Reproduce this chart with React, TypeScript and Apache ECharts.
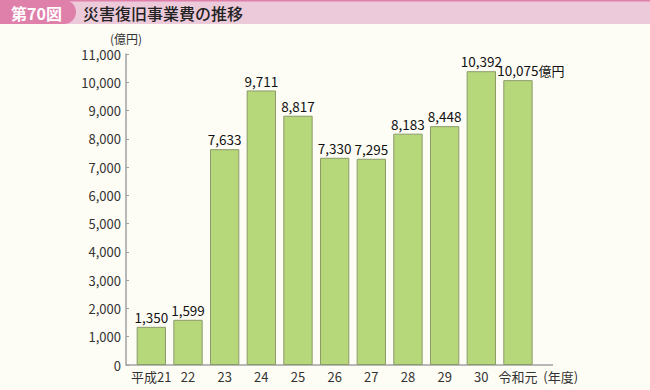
import React, { useEffect, useRef } from "react";
import * as echarts from "echarts";

const categories = ["平成21", "22", "23", "24", "25", "26", "27", "28", "29", "30", "令和元"];
const values = [1350, 1599, 7633, 9711, 8817, 7330, 7295, 8183, 8448, 10392, 10075];
const yTicks = { min: 0, max: 11000, interval: 1000 };
const titleBadge = "第70図";
const titleText = "災害復旧事業費の推移";
const yUnit = "(億円)";
const xUnit = "(年度)";
const lastUnit = "億円";

const FONT = "'Noto Sans CJK JP', 'Noto Sans', sans-serif";

export default function App() {
  const ref = useRef<HTMLDivElement>(null);
  useEffect(() => {
    document.body.style.margin = "0";
    const chart = echarts.init(ref.current!, null, { renderer: "svg" });
    const fmt = (v: number) => v.toLocaleString("en-US");
    chart.setOption({
      animation: false,
      backgroundColor: "#fefdf5",
      textStyle: { fontFamily: FONT },
      grid: { left: 133, top: 54, right: 113.7, bottom: 25, containLabel: false },
      xAxis: {
        type: "category",
        data: categories,
        axisLine: { show: false },
        axisTick: { show: false },
        axisLabel: { color: "#333", fontSize: 13, margin: 5, interval: 0, fontFamily: FONT },
        name: xUnit,
        nameLocation: "end",
        nameGap: 0,
        nameTextStyle: {
          color: "#333",
          fontSize: 13,
          fontFamily: FONT,
          verticalAlign: "top",
          align: "left",
          padding: [5, 0, 0, 0],
        },
      },
      yAxis: {
        type: "value",
        min: yTicks.min,
        max: yTicks.max,
        interval: yTicks.interval,
        offset: 7,
        axisLine: { show: true, lineStyle: { color: "#a0a0a0", width: 1.5 } },
        axisTick: { show: true, inside: true, length: 3, lineStyle: { color: "#a0a0a0" } },
        splitLine: { show: false },
        axisLabel: { color: "#333", fontSize: 13, margin: 5, formatter: fmt, fontFamily: FONT },
        name: yUnit,
        nameLocation: "end",
        nameGap: 10,
        nameTextStyle: { color: "#333", fontSize: 12, fontFamily: FONT, align: "center" },
      },
      series: [
        {
          type: "bar",
          barCategoryGap: "20%",
          data: values.map((v, i) =>
            i === values.length - 1
              ? {
                  value: v,
                  label: {
                    formatter: (p: any) => `{a|${fmt(p.value)}}{b|${lastUnit}}`,
                    offset: [13, 0],
                    rich: {
                      a: { fontSize: 13.5, color: "#111", fontFamily: FONT },
                      b: { fontSize: 13, color: "#111", fontFamily: FONT },
                    },
                  },
                }
              : v
          ),
          itemStyle: { color: "#b6d77a", borderColor: "#8b9a6b", borderWidth: 1 },
          label: {
            show: true,
            position: "top",
            distance: 3,
            color: "#111",
            fontSize: 13.5,
            fontFamily: FONT,
            formatter: (p: any) => fmt(p.value),
          },
        },
      ],
      graphic: [
        { type: "rect", shape: { x: 0, y: 0, width: 650, height: 24 }, style: { fill: "#eccada" } },
        { type: "rect", shape: { x: 0, y: 0, width: 650, height: 1.5 }, style: { fill: "#df80ab" } },
        {
          type: "rect",
          shape: { x: -12, y: 0, width: 88, height: 24, r: [0, 12, 12, 0] },
          style: { fill: "#df80ab" },
        },
        {
          type: "text",
          x: 11,
          y: 12.5,
          style: {
            text: titleBadge,
            fill: "#fff",
            font: `bold 16px ${FONT}`,
            verticalAlign: "middle",
          },
        },
        {
          type: "text",
          x: 83,
          y: 12.5,
          style: {
            text: titleText,
            fill: "#222",
            font: `500 16px ${FONT}`,
            verticalAlign: "middle",
          },
        },
        {
          type: "line",
          shape: { x1: 126, y1: 365, x2: 553, y2: 365 },
          style: { stroke: "#a0a0a0", lineWidth: 1.5 },
        },
      ],
    });
    return () => chart.dispose();
  }, []);
  return <div ref={ref} style={{ width: 650, height: 390 }} />;
}
